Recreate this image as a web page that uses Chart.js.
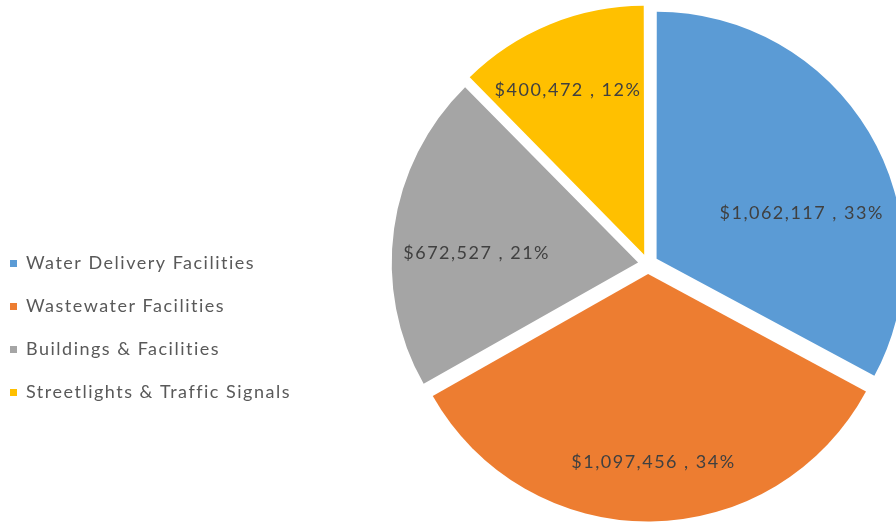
<!DOCTYPE html>
<html>
<head>
<meta charset="utf-8">
<script src="https://cdn.jsdelivr.net/npm/chart.js@4.4.1/dist/chart.umd.min.js"></script>
<style>
  html, body { margin: 0; padding: 0; background: #fff; }
  #wrap { width: 896px; height: 522px; }
</style>
</head>
<body>
<div id="wrap"><canvas id="myChart" width="896" height="522"></canvas></div>
<script>
const categories = ['Water Delivery Facilities', 'Wastewater Facilities', 'Buildings & Facilities', 'Streetlights & Traffic Signals'];
const values = [1062117, 1097456, 672527, 400472];
const colors = ['#5B9BD5', '#ED7D31', '#A5A5A5', '#FFC000'];

// where each value label sits in its slice: share of the sweep, share of the radius
const labelSweep = [0.606, 0.492, 0.443, 0.446];
const labelRadius = [0.658, 0.805, 0.698, 0.778];

const fontName = 'Lato, "Open Sans", sans-serif';

// legend column is wider than its text in the original, push the pie to the right
const legendWidth = {
    id: 'legendWidth',
    beforeInit(chart) {
        const fit = chart.legend.fit;
        chart.legend.fit = function() {
            fit.bind(chart.legend)();
            this.width = 415;
        }
    }
}

// the original text is spread out wider than Lato, open it up a little
const spacing = {
    id: 'spacing',
    beforeDraw(chart) {
        chart.ctx.letterSpacing = '1.5px';
    }
}

const sliceLabels = {
    id: 'sliceLabels',
    afterDatasetsDraw(chart) {
        const ctx = chart.ctx;
        const meta = chart.getDatasetMeta(0);
        const total = values.reduce((a, b) => a + b, 0);
        ctx.save();
        ctx.font = '18px ' + fontName;
        ctx.fillStyle = '#404040';
        ctx.textAlign = 'center';
        ctx.textBaseline = 'middle';
        ctx.letterSpacing = '1.5px';
        meta.data.forEach((arc, i) => {
            const p = arc.getProps(['x', 'y', 'startAngle', 'endAngle', 'outerRadius'], true);
            const ang = p.startAngle + (p.endAngle - p.startAngle) * labelSweep[i];
            const r = p.outerRadius * labelRadius[i];
            const txt = '$' + values[i].toLocaleString('en-US') + ' , ' + Math.round(values[i] / total * 100) + '%';
            ctx.fillText(txt, p.x + Math.cos(ang) * r, p.y + Math.sin(ang) * r);
        });
        ctx.restore();
    }
}

const data = {
    labels: categories,
    datasets: [{
        data: values,
        backgroundColor: colors,
        borderWidth: 0,
        offset: 40
    }]
};

const config = {
    type: 'pie',
    data: data,
    options: {
        responsive: false,
        animation: false,
        radius: 246,
        layout: { padding: { left: -15, top: 6, right: 0, bottom: 0 } },
        plugins: {
            tooltip: { enabled: false },
            legend: {
                position: 'left',
                align: 'center',
                title: { display: true, text: '', font: { size: 12 }, padding: { top: 113.6, bottom: 0 } },
                labels: {
                    boxWidth: 7,
                    boxHeight: 7,
                    padding: 25,
                    color: '#595959',
                    font: { family: fontName, size: 18 }
                }
            }
        }
    },
    plugins: [legendWidth, spacing, sliceLabels]
};

const myChart = new Chart(document.getElementById('myChart'), config);
</script>
</body>
</html>
